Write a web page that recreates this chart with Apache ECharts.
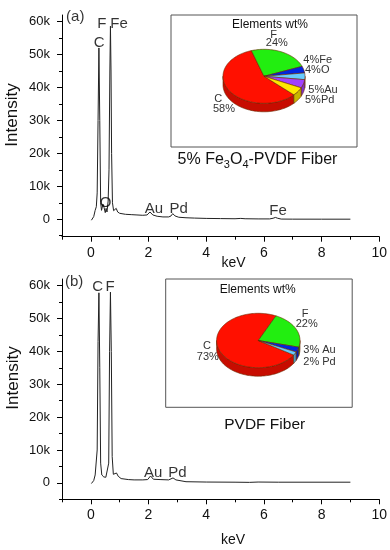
<!DOCTYPE html>
<html><head><meta charset="utf-8">
<script src="https://cdn.jsdelivr.net/npm/echarts@6/dist/echarts.min.js"></script>
<style>html,body{margin:0;padding:0;background:#fff}#c{width:390px;height:550px}</style>
</head><body><div id="c"></div>
<script>
const FONT = "'Liberation Sans', Arial, sans-serif";

// ---------------- data ----------------
const xMajorTicks = [0, 2, 4, 6, 8, 10];
const xMinorTicks = [-1, 1, 3, 5, 7, 9];
const yMajorTicks = [0, 10000, 20000, 30000, 40000, 50000, 60000];
const yMinorTicks = [-5000, 5000, 15000, 25000, 35000, 45000, 55000];

// EDS spectrum (a): [keV, counts]
const spectrumA = [
  [0.02,-300],[0.10,800],[0.15,2700],[0.19,3800],[0.22,8000],[0.25,30000],[0.28,52000],
  [0.31,30000],[0.34,5000],[0.37,2700],[0.42,4600],[0.46,3500],[0.50,2000],[0.53,3300],
  [0.56,2200],[0.60,5500],[0.63,15000],[0.66,45000],[0.68,58600],[0.70,45000],[0.72,20000],
  [0.75,5000],[0.79,2600],[0.84,3200],[0.88,3300],[0.93,2200],[1.0,1800],[1.2,1500],
  [1.4,1400],[1.6,1300],[1.8,1200],[1.95,1300],[2.05,2200],[2.15,1300],[2.3,900],[2.5,700],
  [2.7,700],[2.78,1000],[2.84,1700],[2.92,1000],[3.05,600],[3.3,450],[3.6,350],[4.0,250],
  [4.5,200],[5.0,150],[5.2,250],[5.35,150],[5.8,100],[6.2,100],[6.32,300],[6.4,550],
  [6.48,300],[6.6,50],[7.0,30],[8.0,20],[9.0,20]
];
// EDS spectrum (b): [keV, counts]
const spectrumB = [
  [0.02,-200],[0.10,700],[0.15,2400],[0.19,3000],[0.22,10000],[0.25,43000],[0.28,57800],
  [0.31,35000],[0.34,6000],[0.38,2400],[0.45,1800],[0.52,1700],[0.58,2000],[0.62,6000],
  [0.65,40000],[0.68,58000],[0.71,40000],[0.74,8000],[0.78,2600],[0.84,2800],[0.89,3000],
  [0.95,2000],[1.05,1300],[1.3,1000],[1.5,900],[1.8,900],[1.97,1000],[2.07,2100],[2.17,1100],
  [2.4,1000],[2.7,900],[2.85,1500],[2.95,900],[3.3,350],[4.0,250],[5.0,200],[5.5,150],
  [5.8,250],[6.5,200],[9.0,200]
];

// peak annotations (text, anchored in keV / counts)
const peakNamesA = ['(a)', 'C', 'F', 'Fe', 'O', 'Au', 'Pd', 'Fe'];
const peakAnchorsA = [[-0.54,61400],[0.29,53500],[0.38,59300],[0.98,59300],[0.51,5100],[2.19,3100],[3.05,3100],[6.49,2500]];
const peakNamesB = ['(b)', 'C', 'F', 'Au', 'Pd'];
const peakAnchorsB = [[-0.58,61000],[0.235,59700],[0.67,59700],[2.16,3100],[3.0,3100]];

// composition (wt%)
const elementsA = ['C', 'F', 'Fe', 'O', 'Au', 'Pd'];
const wtA = [58, 24, 4, 4, 5, 5];
const elementsB = ['C', 'F', 'Au', 'Pd'];
const wtB = [73, 22, 3, 2];
const pieColorsA = ['#ff1000', '#22ee10', '#0026e0', '#66ccff', '#a040ff', '#ffe800'];
const pieColorsB = ['#ff1000', '#22ee10', '#0026e0', '#66ccff'];

// ---------------- layout ----------------
const geoA = {cx: 264, cy: 76.3, rx: 41, ry: 27, h: 8.5, start: 316.8, edge: '#6a2800'};
const geoB = {cx: 258.3, cy: 340.5, rx: 41.7, ry: 27.2, h: 8.5, start: 327.8, edge: '#6a2800'};
// label layout per element: stacked = name above pct (centers), inline = pct+name left aligned
const pieLabelLayoutA = [
  {mode: 'stack', n: [218.3, 99], p: [224, 109]},
  {mode: 'stack', n: [273.7, 35], p: [276.8, 43.3]},
  {mode: 'inline', sep: '', at: [303.3, 60]},
  {mode: 'inline', sep: '', at: [305, 69.5]},
  {mode: 'inline', sep: '', at: [308.3, 90]},
  {mode: 'inline', sep: '', at: [305, 100]}
];
const pieLabelLayoutB = [
  {mode: 'stack', n: [207, 346], p: [207.8, 356.7]},
  {mode: 'stack', n: [305, 313.8], p: [306.7, 324.3]},
  {mode: 'inline', sep: ' ', at: [303.3, 350]},
  {mode: 'inline', sep: ' ', at: [303.3, 362.3]}
];

function darken(hex, f) {
  const n = parseInt(hex.slice(1), 16);
  const r = Math.round(((n >> 16) & 255) * f), g = Math.round(((n >> 8) & 255) * f), b = Math.round((n & 255) * f);
  return 'rgb(' + r + ',' + g + ',' + b + ')';
}

function pieSeries(names, values, colors, geo) {
  const total = values.reduce((s, v) => s + v, 0);
  return {
    type: 'custom', coordinateSystem: 'none', silent: true, z: 5,
    data: values.map((v, i) => ({name: names[i], value: v, itemStyle: {color: colors[i]}})),
    renderItem: function (params, api) {
      const i = params.dataIndex;
      let before = 0;
      for (let k = 0; k < i; k++) before += values[k];
      const v = api.value(0);
      const col = api.visual('color');
      const a0 = geo.start - 360 * before / total;
      const a1 = a0 - 360 * v / total;
      const rad = d => d * Math.PI / 180;
      const pt = (d, dy) => [geo.cx + geo.rx * Math.cos(rad(d)), geo.cy - geo.ry * Math.sin(rad(d)) + dy];
      const arc = (from, to, dy) => {
        const n = Math.max(2, Math.ceil(Math.abs(to - from) / 2));
        const pts = [];
        for (let j = 0; j <= n; j++) pts.push(pt(from + (to - from) * j / n, dy));
        return pts;
      };
      const children = [];
      for (let k = -2; k <= 2; k++) {
        const lo = Math.max(a1, -180 + 360 * k), hi = Math.min(a0, 360 * k);
        if (hi - lo > 0.01) {
          children.push({type: 'polygon', shape: {points: arc(lo, hi, 0).concat(arc(hi, lo, geo.h))},
            style: {fill: darken(col, 0.78), stroke: geo.edge, lineWidth: 0.6}});
        }
      }
      children.push({type: 'polygon', shape: {points: [[geo.cx, geo.cy]].concat(arc(a0, a1, 0))},
        style: {fill: col, stroke: geo.edge, lineWidth: 0.6}});
      return {type: 'group', children: children};
    }
  };
}

function pieLabels(names, values, layout) {
  const out = [];
  const st = {fontSize: 11, fontFamily: FONT, fill: '#333'};
  layout.forEach((L, i) => {
    if (L.mode === 'stack') {
      out.push({type: 'text', x: L.n[0], y: L.n[1], z: 10, style: Object.assign({text: names[i], align: 'center', verticalAlign: 'middle'}, st)});
      out.push({type: 'text', x: L.p[0], y: L.p[1], z: 10, style: Object.assign({text: values[i] + '%', align: 'center', verticalAlign: 'middle'}, st)});
    } else {
      out.push({type: 'text', x: L.at[0], y: L.at[1], z: 10, style: Object.assign({text: values[i] + '%' + L.sep + names[i], align: 'left', verticalAlign: 'middle'}, st)});
    }
  });
  return out;
}

const kFmt = v => v === 0 ? '0' : (v / 1000) + 'k';

function mainX(gi) {
  return {type: 'value', gridIndex: gi, min: -1, max: 10, interval: 1,
    axisLine: {onZero: false, lineStyle: {color: '#000', width: 1}},
    axisTick: {customValues: xMajorTicks, length: 5, lineStyle: {color: '#000'}},
    axisLabel: {customValues: xMajorTicks, margin: 9, fontSize: 14, fontFamily: FONT, color: '#111'},
    splitLine: {show: false}};
}
function minorX(gi) {
  return {type: 'value', gridIndex: gi, min: -1, max: 10, interval: 1, position: 'bottom',
    axisLine: {show: false, onZero: false},
    axisTick: {customValues: xMinorTicks, length: 3, lineStyle: {color: '#000'}},
    axisLabel: {show: false}, splitLine: {show: false}};
}
function mainY(gi, mn) {
  return {type: 'value', gridIndex: gi, min: mn, max: 62000,
    axisLine: {show: true, onZero: false, lineStyle: {color: '#000', width: 1}},
    axisTick: {show: true, customValues: yMajorTicks, length: 5, lineStyle: {color: '#000'}},
    axisLabel: {customValues: yMajorTicks, formatter: kFmt, margin: 12, fontSize: 13, fontFamily: FONT, color: '#111'},
    splitLine: {show: false}};
}
function minorY(gi, mn) {
  return {type: 'value', gridIndex: gi, min: mn, max: 62000, position: 'left',
    axisLine: {show: false, onZero: false},
    axisTick: {show: true, customValues: yMinorTicks, length: 3, lineStyle: {color: '#000'}},
    axisLabel: {show: false}, splitLine: {show: false}};
}

function peakSeries(names, anchors, xi, yi) {
  return {type: 'scatter', xAxisIndex: xi, yAxisIndex: yi, symbolSize: 1, silent: true, z: 6,
    itemStyle: {color: 'rgba(0,0,0,0)'},
    data: anchors.map((p, i) => ({name: names[i], value: p})),
    label: {show: true, position: 'inside', formatter: '{b}', fontSize: 15, fontFamily: FONT, color: '#000'}};
}

const subRich = {
  n: {fontSize: 16, fontFamily: FONT, fill: '#111', lineHeight: 20, verticalAlign: 'middle'},
  s: {fontSize: 11, fontFamily: FONT, fill: '#111', lineHeight: 12, verticalAlign: 'bottom'}
};

const chart = echarts.init(document.getElementById('c'), null, {renderer: 'canvas'});
chart.setOption({
  animation: false,
  backgroundColor: '#fff',
  grid: [
    {left: 62, top: 15, width: 318, height: 221.7},
    {left: 62, top: 279, width: 318, height: 220.3}
  ],
  xAxis: [mainX(0), mainX(1), minorX(0), minorX(1)],
  yAxis: [mainY(0, -5300), mainY(1, -5000), minorY(0, -5300), minorY(1, -5000)],
  series: [
    {type: 'line', xAxisIndex: 0, yAxisIndex: 0, data: spectrumA, showSymbol: false, symbol: 'none',
      lineStyle: {color: '#222', width: 1}, z: 3},
    {type: 'line', xAxisIndex: 1, yAxisIndex: 1, data: spectrumB, showSymbol: false, symbol: 'none',
      lineStyle: {color: '#222', width: 1}, z: 3},
    peakSeries(peakNamesA, peakAnchorsA, 0, 0),
    peakSeries(peakNamesB, peakAnchorsB, 1, 1),
    pieSeries(elementsA, wtA, pieColorsA, geoA),
    pieSeries(elementsB, wtB, pieColorsB, geoB)
  ],
  graphic: [
    {type: 'rect', shape: {x: 171, y: 15, width: 186, height: 132}, style: {fill: 'none', stroke: '#555', lineWidth: 1}},
    {type: 'rect', shape: {x: 165.7, y: 279, width: 186.5, height: 128.3}, style: {fill: 'none', stroke: '#555', lineWidth: 1}},
    {type: 'text', x: 270, y: 25, style: {text: 'Elements wt%', fontSize: 12, fontFamily: FONT, fill: '#111', align: 'center', verticalAlign: 'middle'}},
    {type: 'text', x: 257.7, y: 289.5, style: {text: 'Elements wt%', fontSize: 12, fontFamily: FONT, fill: '#111', align: 'center', verticalAlign: 'middle'}},
    {type: 'text', x: 257.5, y: 160, style: {text: '{n|5% Fe}{s|3}{n|O}{s|4}{n|-PVDF Fiber}', rich: subRich, align: 'center', verticalAlign: 'middle'}},
    {type: 'text', x: 264.7, y: 425, style: {text: 'PVDF Fiber', fontSize: 15.5, fontFamily: FONT, fill: '#111', align: 'center', verticalAlign: 'middle'}},
    {type: 'text', x: 12, y: 115, rotation: Math.PI / 2, style: {text: 'Intensity', fontSize: 17, fontFamily: FONT, fill: '#111', align: 'center', verticalAlign: 'middle'}},
    {type: 'text', x: 13, y: 378, rotation: Math.PI / 2, style: {text: 'Intensity', fontSize: 17, fontFamily: FONT, fill: '#111', align: 'center', verticalAlign: 'middle'}},
    {type: 'text', x: 233.5, y: 263, style: {text: 'keV', fontSize: 14, fontFamily: FONT, fill: '#111', align: 'center', verticalAlign: 'middle'}},
    {type: 'text', x: 233, y: 540, style: {text: 'keV', fontSize: 14, fontFamily: FONT, fill: '#111', align: 'center', verticalAlign: 'middle'}}
  ].concat(pieLabels(elementsA, wtA, pieLabelLayoutA), pieLabels(elementsB, wtB, pieLabelLayoutB))
});
</script>
</body></html>
